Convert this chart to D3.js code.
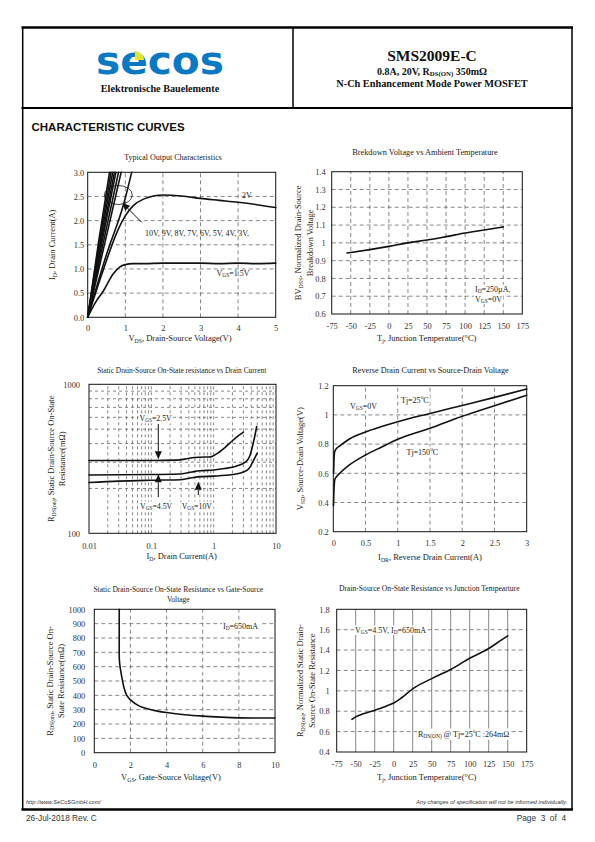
<!DOCTYPE html>
<html><head><meta charset="utf-8">
<script src="https://cdn.jsdelivr.net/npm/d3@7"></script>
<style>body{margin:0;background:#fff}svg{display:block}</style>
</head><body>
<svg id="page" width="595" height="842"></svg>
<script>
// ---------------- DATA ----------------
// Chart 1: Typical Output Characteristics (VDS V, ID A)
const outSteepVgs = ["10V","9V","8V","7V","6V","5V","4V","3V"];
const outSteepCurves = [
  [[0,0],[0.29,1.56],[0.58,3.0]],
  [[0,0],[0.31,1.55],[0.62,3.0]],
  [[0,0],[0.33,1.55],[0.665,3.0]],
  [[0,0],[0.355,1.54],[0.71,3.0]],
  [[0,0],[0.375,1.54],[0.75,3.0]],
  [[0,0],[0.41,1.53],[0.82,3.0]],
  [[0,0],[0.45,1.52],[0.89,3.0]],
  [[0,0],[0.5,1.3],[0.97,2.38],[1.17,3.0]]
];
const outVgs2 = [[0,0],[0.4,0.95],[0.8,1.8],[1.0,2.1],[1.2,2.3],[1.5,2.45],[2,2.53],[2.5,2.51],[3,2.46],[3.5,2.42],[4,2.38],[4.5,2.33],[5,2.27]];
const outVgs15 = [[0,0],[0.2,0.3],[0.42,0.55],[0.68,0.9],[0.85,1.04],[1.0,1.09],[1.2,1.11],[1.5,1.11],[2,1.12],[2.5,1.12],[3,1.12],[3.5,1.11],[4,1.12],[4.5,1.11],[5,1.12]];
const outXTicks = [0,1,2,3,4,5];
const outYTicks = [0,0.5,1,1.5,2,2.5,3];

// Chart 2: Breakdown voltage vs temperature
const bvTemp = [-55,-50,-25,0,25,50,75,100,125,150];
const bvNorm = [0.943,0.946,0.962,0.98,1.0,1.016,1.035,1.055,1.072,1.09];
const tempTicks = [-75,-50,-25,0,25,50,75,100,125,150,175];
const bvYTicks = [0.6,0.7,0.8,0.9,1.0,1.1,1.2,1.3,1.4];

// Chart 3: RDS(on) vs drain current (A, mOhm)
const rdsId25 = [[0.01,308],[0.05,308],[0.1,308],[0.25,310],[0.35,315],[0.45,321],[0.6,324],[0.9,326],[1.1,340],[1.5,375],[2,418],[2.5,452],[3,478]];
const rdsId45 = [[0.01,246],[0.1,248],[0.3,250],[0.45,258],[0.6,263],[1,266],[1.5,272],[2.3,282],[3.2,300],[3.8,330],[4.3,400],[4.9,520]];
const rdsId10 = [[0.01,219],[0.03,224],[0.1,227],[0.3,229],[0.45,236],[0.6,240],[1,242],[2,248],[3,258],[3.7,272],[4.3,305],[5,345]];
const rdsIdXTicks = [0.01,0.1,1,10];
const rdsIdYTicks = [100,1000];

// Chart 4: Reverse drain current vs VSD (A, V)
const vsd25 = [[0.005,0.6],[0.01,0.68],[0.02,0.745],[0.05,0.77],[0.1,0.787],[0.25,0.835],[0.5,0.883],[0.75,0.92],[1,0.953],[1.5,1.01],[2,1.065],[2.5,1.12],[3,1.177]];
const vsd150 = [[0.003,0.38],[0.01,0.48],[0.025,0.56],[0.05,0.577],[0.1,0.6],[0.25,0.657],[0.5,0.725],[0.75,0.78],[1,0.833],[1.5,0.908],[2,0.99],[2.5,1.063],[3,1.135]];
const vsdXTicks = [0,0.5,1,1.5,2,2.5,3];
const vsdYTicks = [0.2,0.4,0.6,0.8,1.0,1.2];

// Chart 5: RDS(on) vs VGS (V, mOhm)
const rdsVgs = [[1.38,1000],[1.38,800],[1.39,640],[1.45,580],[1.55,510],[1.65,450],[1.8,400],[2,368],[2.5,325],[3,305],[3.5,290],[4,280],[5,265],[6,255],[7,248],[8,243],[9,242],[10,242]];
const vgsXTicks = [0,2,4,6,8,10];
const rdsVgsYTicks = [0,100,200,300,400,500,600,700,800,900,1000];

// Chart 6: normalized RDS(on) vs Tj
const rdsTjTemp = [-55,-50,-40,-25,-10,0,10,25,50,75,100,125,140,150];
const rdsTjNorm = [0.72,0.745,0.775,0.81,0.85,0.88,0.93,1.02,1.12,1.21,1.32,1.415,1.49,1.54];
const rdsTjYTicks = [0.4,0.6,0.8,1.0,1.2,1.4,1.6,1.8];

// ---------------- DRAWING ----------------
const svg = d3.select("#page");
const SERIF = "'Liberation Serif','Times New Roman',serif";
const SANS = "'Liberation Sans',Arial,sans-serif";

function rich(textSel, str, fs) {
  const re = /([_^])\{([^}]*)\}/g; let last = 0, m, shift = 0;
  function add(s, k) {
    const t = textSel.append("tspan").text(s);
    const target = k === 1 ? fs * 0.18 : k === -1 ? -fs * 0.38 : 0;
    if (target - shift !== 0) t.attr("dy", target - shift);
    shift = target;
    if (k) t.attr("font-size", fs * 0.68);
  }
  while ((m = re.exec(str))) {
    if (m.index > last) add(str.slice(last, m.index), 0);
    add(m[2], m[1] === "_" ? 1 : -1);
    last = re.lastIndex;
  }
  if (last < str.length) add(str.slice(last), 0);
  return textSel;
}
function txt(g, x, y, str, o = {}) {
  const fs = o.fs || 8;
  const t = g.append("text").attr("x", x).attr("y", y)
    .attr("font-family", o.family || SERIF).attr("font-size", fs)
    .attr("fill", o.fill || "#222").attr("text-anchor", o.anchor || "start")
    .style("white-space", "pre");
  if (o.weight) t.attr("font-weight", o.weight);
  if (o.italic) t.attr("font-style", "italic");
  if (o.rotate) t.attr("transform", `rotate(-90,${x},${y})`);
  rich(t, str, fs);
  if (o.bg) {
    const b = t.node().getBBox();
    g.insert("rect", () => t.node()).attr("x", b.x - 1).attr("y", b.y).attr("width", b.width + 2).attr("height", b.height).attr("fill", "#fff");
  }
  return t;
}

function chart(o) {
  const g = svg.append("g");
  const x = o.x, y = o.y;
  const [x0, x1] = x.range(), [y0, y1] = y.range();
  const gridG = g.append("g").attr("stroke", "#555").attr("stroke-width", 0.7);
  (o.xGrid || []).forEach(v => gridG.append("line").attr("x1", x(v)).attr("x2", x(v)).attr("y1", y0).attr("y2", y1)
    .attr("stroke-dasharray", o.xGridSolid ? null : (o.dash || "4,3")));
  (o.yGrid || []).forEach(v => gridG.append("line").attr("y1", y(v)).attr("y2", y(v)).attr("x1", x0).attr("x2", x1)
    .attr("stroke-dasharray", o.dash || "4,3"));
  g.append("rect").attr("x", x0).attr("y", y1).attr("width", x1 - x0).attr("height", y0 - y1)
    .attr("fill", "none").attr("stroke", "#111").attr("stroke-width", 1);
  const ax = g.append("g").attr("transform", `translate(0,${y0})`)
    .call(d3.axisBottom(x).tickValues(o.xTicks).tickFormat(o.xFmt).tickSize(0).tickPadding(o.xPad));
  const ay = g.append("g").attr("transform", `translate(${x0},0)`)
    .call(d3.axisLeft(y).tickValues(o.yTicks).tickFormat(o.yFmt).tickSize(0).tickPadding(o.yPad));
  [ax, ay].forEach(a => {
    a.select(".domain").remove();
    a.selectAll("text").attr("font-family", SERIF).attr("font-size", o.tickFs || 8.4).attr("fill", "#333");
  });
  o.title.forEach((t, i) => txt(g, o.titleX, o.titleY + i * 10.5, t, { fs: o.titleFs, anchor: "middle" }));
  txt(g, o.xLabelX, o.xLabelY, o.xLabel, { fs: 8.5, anchor: "middle" });
  const ymid = (y0 + y1) / 2;
  o.yLabel.forEach((t, i) => txt(g, o.yLabelX[i], ymid, t, { fs: 8.5, anchor: "middle", rotate: true }));
  return g;
}
function curve(g, x, y, data, c) {
  g.append("path").datum(data).attr("fill", "none").attr("stroke", "#111").attr("stroke-width", 1.6)
    .attr("stroke-linejoin", "round").attr("stroke-linecap", "round")
    .attr("d", d3.line().x(d => x(d[0])).y(d => y(d[1])).curve(c || d3.curveMonotoneX));
}
function arrow(g, xa, ya, xb, yb, head) {
  const ang = Math.atan2(yb - ya, xb - xa), h = head || 7, w = 3.5;
  const bx = xb - h * Math.cos(ang), by = yb - h * Math.sin(ang);
  g.append("line").attr("x1", xa).attr("y1", ya).attr("x2", bx).attr("y2", by).attr("stroke", "#111").attr("stroke-width", 1);
  g.append("path").attr("fill", "#111").attr("d",
    `M${xb},${yb}L${bx + w * Math.sin(ang)},${by - w * Math.cos(ang)}L${bx - w * Math.sin(ang)},${by + w * Math.cos(ang)}Z`);
}
const f1 = d3.format(".1f");
const fg = d => String(+d.toFixed(2));
const fi = d => String(d);

// ---------- Page frame / header ----------
const fr = svg.append("g").attr("stroke", "#000").attr("fill", "none");
fr.append("line").attr("x1", 21.5).attr("x2", 573).attr("y1", 27.5).attr("y2", 27.5).attr("stroke-width", 2.5);
fr.append("line").attr("x1", 21.5).attr("x2", 573).attr("y1", 108).attr("y2", 108).attr("stroke-width", 2);
fr.append("line").attr("x1", 22.7).attr("x2", 22.7).attr("y1", 27).attr("y2", 810).attr("stroke-width", 1.5);
fr.append("line").attr("x1", 572).attr("x2", 572).attr("y1", 27).attr("y2", 810).attr("stroke-width", 1.5);
fr.append("line").attr("x1", 293).attr("x2", 293).attr("y1", 27).attr("y2", 108).attr("stroke-width", 1.5);
fr.append("line").attr("x1", 21.5).attr("x2", 573).attr("y1", 809.5).attr("y2", 809.5).attr("stroke-width", 2.5);

const hd = svg.append("g");
hd.append("text").attr("x", 160).attr("y", 73.5).attr("text-anchor", "middle")
  .attr("font-family", "'DejaVu Sans',sans-serif").attr("font-weight", "bold").attr("font-size", 38)
  .attr("fill", "#0b78c2").attr("textLength", 128).attr("lengthAdjust", "spacingAndGlyphs").text("secos");
hd.append("path").attr("fill", "#e4e52a").attr("d", d3.arc()({ innerRadius: 0, outerRadius: 9, startAngle: 0, endAngle: Math.PI / 2 }))
  .attr("transform", "translate(135,60)");
txt(hd, 160, 92, "Elektronische Bauelemente", { fs: 10.2, weight: "bold", anchor: "middle", fill: "#111" });
txt(hd, 432, 61, "SMS2009E-C", { fs: 15.5, weight: "bold", anchor: "middle", fill: "#111" });
txt(hd, 432, 74.5, "0.8A, 20V, R_{DS(ON)} 350mΩ", { fs: 10, weight: "bold", anchor: "middle", fill: "#111" });
txt(hd, 432, 87, "N-Ch Enhancement Mode Power MOSFET", { fs: 10.3, weight: "bold", anchor: "middle", fill: "#111" });
txt(hd, 31.5, 130.5, "CHARACTERISTIC CURVES", { fs: 11.5, weight: "bold", family: SANS, fill: "#111" });

// footer
txt(svg, 26, 803.5, "http://www.SeCoSGmbH.com/", { fs: 5.6, italic: true, family: SANS, fill: "#333" });
txt(svg, 567, 803.5, "Any changes of specification will not be informed individually.", { fs: 5.6, italic: true, family: SANS, fill: "#333", anchor: "end" });
txt(svg, 26, 820.5, "26-Jul-2018 Rev. C", { fs: 8.3, family: SANS, fill: "#333" });
txt(svg, 566, 820.5, "Page  3  of  4", { fs: 8.3, family: SANS, fill: "#333", anchor: "end" });

// ---------- Chart 1 ----------
{
  const x = d3.scaleLinear().domain([0, 5]).range([87.7, 275.7]);
  const y = d3.scaleLinear().domain([0, 3]).range([317.3, 172.3]);
  const g = chart({ x, y, xTicks: outXTicks, yTicks: outYTicks, xFmt: fi, yFmt: f1, xPad: 8, yPad: 3.5,
    xGrid: [1, 2, 3, 4], yGrid: [0.5, 1, 1.5, 2, 2.5],
    title: ["Typical Output Characteristics"], titleX: 173, titleY: 159.5, titleFs: 8,
    xLabel: "V_{DS}, Drain-Source Voltage(V)", xLabelX: 180, xLabelY: 341,
    yLabel: ["I_{D}, Drain Current(A)"], yLabelX: [55] });
  outSteepCurves.forEach(c => curve(g, x, y, c));
  curve(g, x, y, outVgs2);
  curve(g, x, y, outVgs15);
  g.append("ellipse").attr("cx", 118.3).attr("cy", 195).attr("rx", 14).attr("ry", 9.5).attr("fill", "none").attr("stroke", "#111").attr("stroke-width", 0.8);
  arrow(g, 141.7, 222.3, 122.7, 203.3, 7);
  txt(g, 242, 198, "2V", { fs: 8 });
  txt(g, 145, 235.5, outSteepVgs.join(", ") + ",", { fs: 8 });
  txt(g, 216.5, 275.5, "V_{GS}=1.5V", { fs: 8 });
}

// ---------- Chart 2 ----------
{
  const x = d3.scaleLinear().domain([-75, 175]).range([331.7, 522.3]);
  const y = d3.scaleLinear().domain([0.6, 1.4]).range([314, 171.7]);
  const g = chart({ x, y, xTicks: tempTicks, yTicks: bvYTicks, xFmt: fi, yFmt: fg, xPad: 9.5, yPad: 6,
    xGrid: tempTicks.slice(1, -1), yGrid: bvYTicks.slice(1, -1),
    title: ["Brekdown Voltage vs Ambient Temperature"], titleX: 425, titleY: 154.5, titleFs: 8.3,
    xLabel: "T_{j}, Junction Temperature(°C)", xLabelX: 426.7, xLabelY: 341,
    yLabel: ["BV_{DSS}, Normalized Drain-Source", "Breakdown Voltage"], yLabelX: [301.5, 313] });
  curve(g, x, y, bvTemp.map((t, i) => [t, bvNorm[i]]));
  txt(g, 475, 291.7, "I_{D}=250µA,", { fs: 8, bg: true });
  txt(g, 475, 301.7, "V_{GS}=0V", { fs: 8, bg: true });
}

// ---------- Chart 3 ----------
{
  const x = d3.scaleLog().domain([0.01, 10]).range([89, 276]);
  const y = d3.scaleLog().domain([100, 1000]).range([533.3, 384.3]);
  const xg = [], yg = [];
  [0.01, 0.1, 1].forEach(d => { for (let k = 2; k <= 9; k++) xg.push(d * k); if (d > 0.01) xg.push(d); });
  for (let k = 2; k <= 9; k++) yg.push(100 * k);
  const g = chart({ x, y, xTicks: rdsIdXTicks, yTicks: rdsIdYTicks, xFmt: fi, yFmt: fi, xPad: 10, yPad: 9,
    xGrid: xg, yGrid: yg, dash: "3,3",
    title: ["Static Drain-Source On-State resistance vs Drain Current"], titleX: 181.7, titleY: 372.5, titleFs: 7.4,
    xLabel: "I_{D}, Drain Current(A)", xLabelX: 181.7, xLabelY: 559,
    yLabel: ["R_{DS(on)}, Static Drain-Source On-State", "Resistance(mΩ)"], yLabelX: [54, 65] });
  curve(g, x, y, rdsId25);
  curve(g, x, y, rdsId45);
  curve(g, x, y, rdsId10);
  txt(g, 139.5, 421, "V_{GS}=2.5V", { fs: 7.8, bg: true });
  arrow(g, 158.3, 424, 158.3, 459.3, 8);
  txt(g, 140, 508.5, "V_{GS}=4.5V", { fs: 7.8, bg: true });
  arrow(g, 158.3, 497, 158.3, 474.3, 8);
  txt(g, 181.7, 508.5, "V_{GS}=10V", { fs: 7.8, bg: true });
  arrow(g, 198.3, 495, 198.3, 481.7, 8);
}

// ---------- Chart 4 ----------
{
  const x = d3.scaleLinear().domain([0, 3]).range([333.3, 526.7]);
  const y = d3.scaleLinear().domain([0.2, 1.2]).range([531.7, 385.7]);
  const g = chart({ x, y, xTicks: vsdXTicks, yTicks: vsdYTicks, xFmt: fi, yFmt: fg, xPad: 8, yPad: 4.5,
    xGrid: [0.5, 1, 1.5, 2, 2.5], yGrid: [0.4, 0.6, 0.8, 1.0],
    title: ["Reverse Drain Current vs Source-Drain Voltage"], titleX: 430.5, titleY: 372.5, titleFs: 8.2,
    xLabel: "I_{DR}, Reverse Drain Current(A)", xLabelX: 430, xLabelY: 560,
    yLabel: ["V_{SD}, Source-Drain Voltage(V)"], yLabelX: [303] });
  curve(g, x, y, vsd25);
  curve(g, x, y, vsd150);
  txt(g, 350, 408.5, "V_{GS}=0V", { fs: 8, bg: true });
  txt(g, 401, 402.5, "Tj=25^{o}C", { fs: 8, bg: true });
  txt(g, 406.5, 454.5, "Tj=150^{o}C", { fs: 8, bg: true });
}

// ---------- Chart 5 ----------
{
  const x = d3.scaleLinear().domain([0, 10]).range([94.3, 275]);
  const y = d3.scaleLinear().domain([0, 1000]).range([752.7, 609.3]);
  const g = chart({ x, y, xTicks: vgsXTicks, yTicks: rdsVgsYTicks, xFmt: fi, yFmt: fi, xPad: 9, yPad: 9,
    xGrid: [2, 4, 6, 8], yGrid: rdsVgsYTicks.slice(1, -1),
    title: ["Static Drain-Source On-State Resistance vs Gate-Source", "Voltage"], titleX: 178.3, titleY: 591.5, titleFs: 7.5,
    xLabel: "V_{GS}, Gate-Source Voltage(V)", xLabelX: 171, xLabelY: 780,
    yLabel: ["R_{DS(on)}, Static Drain-Source On-", "State Resistance(mΩ)"], yLabelX: [52.5, 63.5] });
  curve(g, x, y, rdsVgs, d3.curveCatmullRom.alpha(0.5));
  txt(g, 223, 628.5, "I_{D}=650mA", { fs: 8, bg: true });
}

// ---------- Chart 6 ----------
{
  const x = d3.scaleLinear().domain([-75, 175]).range([336.7, 526.7]);
  const y = d3.scaleLinear().domain([0.4, 1.8]).range([752, 609.3]);
  const g = chart({ x, y, xTicks: tempTicks, yTicks: rdsTjYTicks, xFmt: fi, yFmt: fg, xPad: 9, yPad: 7,
    xGrid: tempTicks.slice(1, -1), xGridSolid: true, yGrid: rdsTjYTicks.slice(1, -1),
    title: ["Drain-Source On-State Resistance vs Junction Tempearture"], titleX: 429.3, titleY: 591, titleFs: 7.6,
    xLabel: "T_{j}, Junction Temperature(°C)", xLabelX: 426.7, xLabelY: 780,
    yLabel: ["R_{DS(on)}, Normalized Static Drain-", "Source On-State Resistance"], yLabelX: [303, 315] });
  curve(g, x, y, rdsTjTemp.map((t, i) => [t, rdsTjNorm[i]]));
  txt(g, 355, 632.5, "V_{GS}=4.5V, I_{D}=650mA", { fs: 8, bg: true });
  txt(g, 418, 736.5, "R_{DS(ON)} @ Tj=25^{o}C :264mΩ", { fs: 8, bg: true });
}
</script>
</body></html>
